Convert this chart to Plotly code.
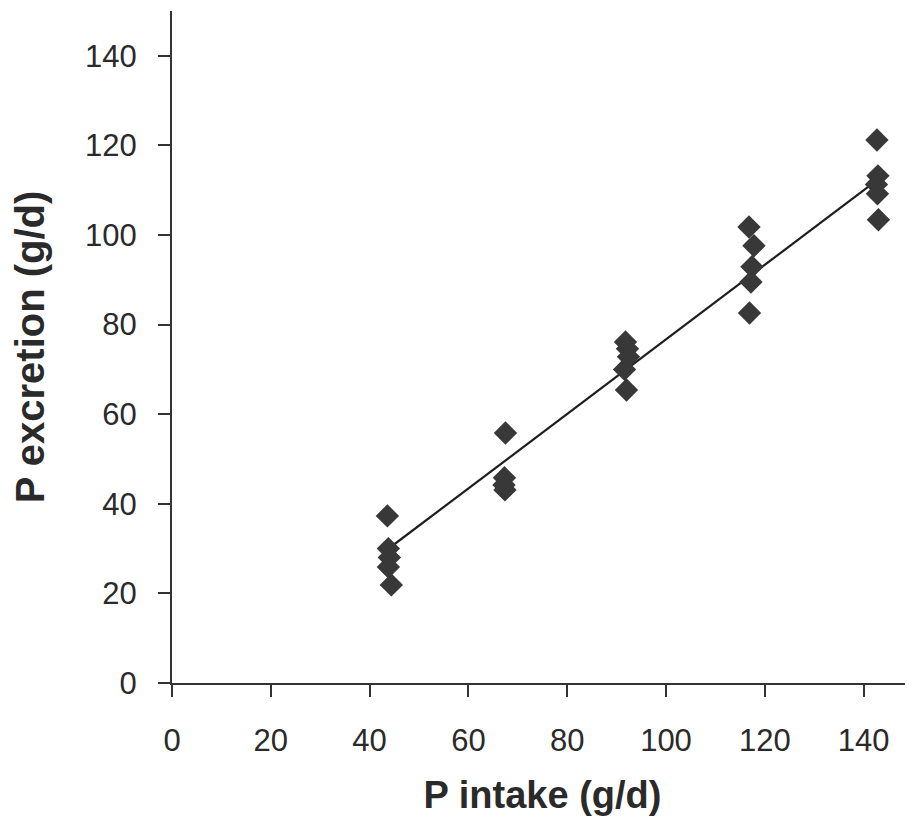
import plotly.graph_objects as go

# Data
p_intake = [43.6, 43.8, 44.0, 43.8, 44.4,
            67.5, 67.3, 67.2, 67.4,
            91.8, 92.2, 92.4, 91.6, 92.0,
            116.8, 117.8, 117.4, 117.2, 116.9,
            142.7, 142.9, 142.6, 142.8, 143.0]
p_excretion = [37.3, 30.0, 28.0, 25.9, 21.9,
               55.8, 45.8, 44.2, 43.1,
               76.1, 74.6, 72.8, 70.0, 65.4,
               101.8, 97.6, 92.9, 89.5, 82.6,
               121.2, 113.2, 111.3, 109.2, 103.4]
trend_x = [43.6, 142.8]
trend_y = [29.8, 112.3]

x_ticks = [0, 20, 40, 60, 80, 100, 120, 140]
y_ticks = [0, 20, 40, 60, 80, 100, 120, 140]

fig = go.Figure()
fig.add_trace(go.Scatter(x=trend_x, y=trend_y, mode="lines",
                         line=dict(color="#1e1e1e", width=2.2),
                         showlegend=False, hoverinfo="skip"))
fig.add_trace(go.Scatter(x=p_intake, y=p_excretion, mode="markers",
                         marker=dict(symbol="diamond", size=18, color="#383838",
                                     line=dict(width=0)),
                         showlegend=False))

font_family = "Liberation Sans, Arial, sans-serif"
fig.update_layout(
    width=913, height=818,
    margin=dict(l=164, r=8, t=3, b=143),
    paper_bgcolor="white", plot_bgcolor="white",
    font=dict(family=font_family, color="#2a2a2a"),
    xaxis=dict(range=[0, 150], tickvals=x_ticks, ticktext=[str(v) for v in x_ticks],
               automargin=False,
               showgrid=False, zeroline=False, showline=True, linecolor="#333333",
               linewidth=2, ticks="outside", ticklen=12, tickwidth=1.5, tickcolor="#333333",
               tickfont=dict(size=31, family=font_family, color="#2a2a2a"),
               ticklabelstandoff=17,
               title=dict(text="<b>P intake (g/d)</b>", font=dict(size=38, family=font_family),
                          standoff=24)),
    yaxis=dict(range=[0, 150], tickvals=y_ticks, ticktext=[str(v) for v in y_ticks],
               automargin=False,
               showgrid=False, zeroline=False, showline=True, linecolor="#333333",
               linewidth=2, ticks="outside", ticklen=12, tickwidth=1.5, tickcolor="#333333",
               tickfont=dict(size=31, family=font_family, color="#2a2a2a"),
               ticklabelstandoff=15,
               title=dict(text="<b>P excretion (g/d)</b>", font=dict(size=40, family=font_family),
                          standoff=34)),
)

fig.write_html("out.html")
